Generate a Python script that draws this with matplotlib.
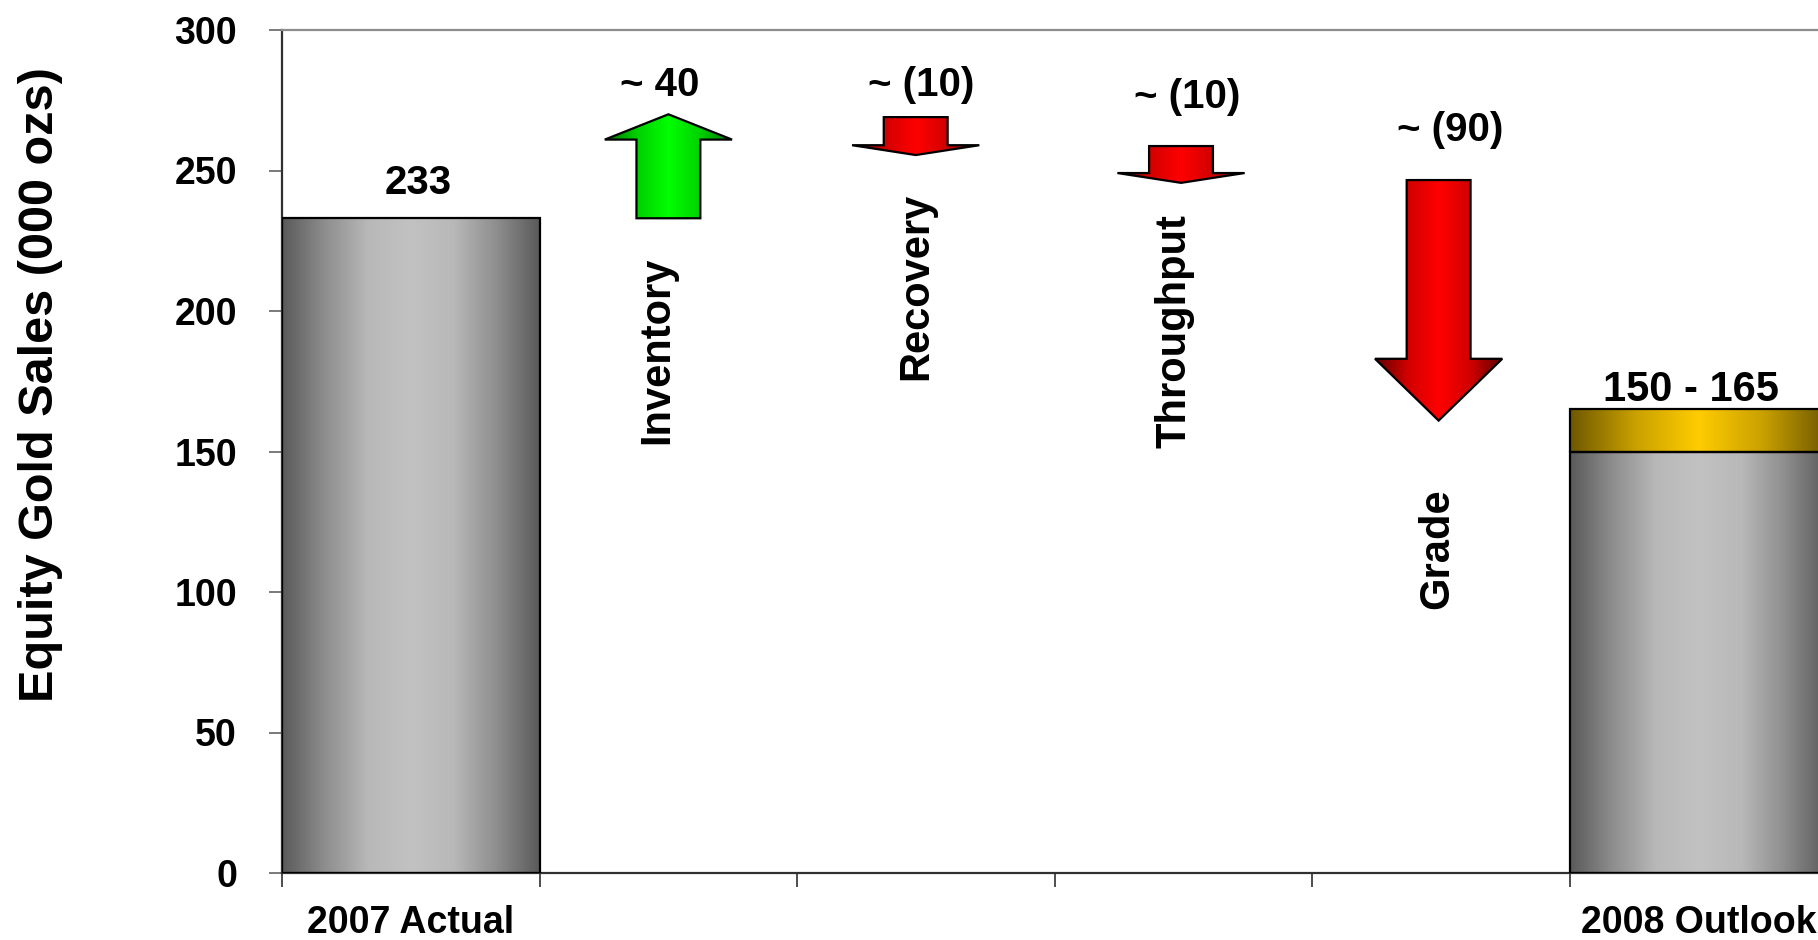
import numpy as np
import matplotlib.pyplot as plt
from matplotlib.colors import LinearSegmentedColormap
from matplotlib.patches import Polygon

plt.rcParams['font.family'] = ['Liberation Sans', 'DejaVu Sans']
plt.rcParams['font.weight'] = 'bold'

# values
categories = ['2007 Actual', 'Inventory', 'Recovery', 'Throughput', 'Grade', '2008 Outlook']
actual_2007 = 233
outlook_low = 150
outlook_high = 165
steps = ['Inventory', 'Recovery', 'Throughput', 'Grade']
step_from = [233, 269, 258.7, 246.6]
step_to = [270, 255.5, 245.6, 161]
step_labels = ['~ 40', '~ (10)', '~ (10)', '~ (90)']
yticks = [0, 50, 100, 150, 200, 250, 300]

# styling
head_len = [9, 3.5, 3.5, 22]
arrow_x = [1.0, 1.96, 2.99, 3.99]
shaft_hw = 0.124
head_hw = 0.247

gray = LinearSegmentedColormap.from_list('gray', ['#5a5a5a', '#8e8e8e', '#b8b8b8', '#c2c2c2',
                                                  '#b8b8b8', '#8e8e8e', '#5a5a5a'])
gold = LinearSegmentedColormap.from_list('gold', ['#6e5800', '#c9a000', '#ffcc00', '#c9a000', '#6e5800'])
red = LinearSegmentedColormap.from_list('red', ['#5c0000', '#d00000', '#ff0000', '#d00000', '#5c0000'])
green = LinearSegmentedColormap.from_list('green', ['#007000', '#00d000', '#00ff00', '#00d000', '#007000'])


def shade(ax, patch, x0, x1, y0, y1, cmap):
    grad = np.linspace(0, 1, 256).reshape(1, -1)
    im = ax.imshow(grad, cmap=cmap, aspect='auto', extent=(x0, x1, y0, y1),
                   interpolation='bicubic', zorder=2)
    im.set_clip_path(patch)


fig = plt.figure(figsize=(18.18, 9.4), dpi=100)
ax = fig.add_axes([282 / 1818, 67 / 940, 1545.6 / 1818, 843 / 940])

# bars
b1 = ax.bar(0, actual_2007, width=1.0, facecolor='none', edgecolor='black', lw=1.6, zorder=3)
b2 = ax.bar(5, outlook_low, width=1.0, facecolor='none', edgecolor='black', lw=1.6, zorder=3)
b3 = ax.bar(5, outlook_high - outlook_low, bottom=outlook_low, width=1.0,
            facecolor='none', edgecolor='black', lw=1.6, zorder=3)
shade(ax, b1[0], -0.5, 0.5, 0, actual_2007, gray)
shade(ax, b2[0], 4.5, 5.5, 0, outlook_low, gray)
shade(ax, b3[0], 4.5, 5.5, outlook_low, outlook_high, gold)

# arrows
for i in range(len(steps)):
    cx = arrow_x[i]
    y0, y1 = step_from[i], step_to[i]
    sign = 1 if y1 > y0 else -1
    yb = y1 - sign * head_len[i]
    pts = [(cx - shaft_hw, y0), (cx - shaft_hw, yb), (cx - head_hw, yb), (cx, y1),
           (cx + head_hw, yb), (cx + shaft_hw, yb), (cx + shaft_hw, y0)]
    poly = Polygon(pts, closed=True, facecolor='none', edgecolor='black', lw=1.6,
                   joinstyle='miter', zorder=3)
    ax.add_patch(poly)
    shade(ax, poly, cx - head_hw, cx + head_hw, min(y0, y1), max(y0, y1),
          green if sign > 0 else red)

# value labels
ax.text(0.03, 241.8, str(actual_2007), ha='center', va='baseline', fontsize=29)
lab_x = [0.967, 1.98, 3.013, 4.034]
lab_y = [276.5, 276.5, 272.2, 260.5]
for i in range(len(steps)):
    ax.text(lab_x[i], lab_y[i], step_labels[i], ha='center', va='baseline', fontsize=29)
ax.text(4.97, 168, '%d - %d' % (outlook_low, outlook_high), ha='center', va='baseline', fontsize=30)

# step names, rotated
name_x = [0.956, 1.961, 2.965, 3.986]
name_y = [186.0, 208.9, 192.8, 115.4]
for i in range(len(steps)):
    ax.text(name_x[i], name_y[i], steps[i], rotation=90, ha='center', va='center', fontsize=30)

ax.set_xlim(-0.5, 5.5)
ax.set_ylim(0, 300)
ax.set_xticks(range(len(categories)))
ax.set_xticklabels(['2007 Actual', '', '', '', '', '2008 Outlook'], fontsize=27)
ax.set_xticks(np.arange(-0.5, 6, 1.0), minor=True)
ax.tick_params(axis='x', which='major', length=0, pad=23)
ax.tick_params(axis='x', which='minor', length=10, width=1.3, color='#404040', direction='out')
ax.set_yticks(yticks)
ax.tick_params(axis='y', length=9.4, width=1.3, color='#707070', pad=23, labelsize=27)

ax.spines['right'].set_visible(False)
ax.spines['top'].set_color('#8c8c8c')
ax.spines['top'].set_linewidth(1.6)
ax.spines['left'].set_color('#303030')
ax.spines['left'].set_linewidth(1.6)
ax.spines['bottom'].set_color('#303030')
ax.spines['bottom'].set_linewidth(1.6)

fig.text(40.6 / 1818, 1 - 385 / 940, 'Equity Gold Sales (000 ozs)', rotation=90,
         ha='center', va='center', fontsize=35)

fig.savefig('out.png', dpi=100)
